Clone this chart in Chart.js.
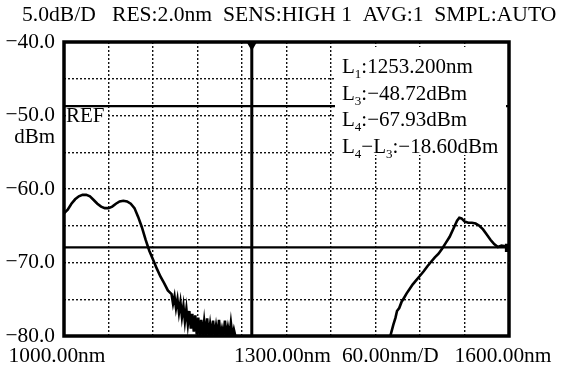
<!DOCTYPE html>
<html>
<head>
<meta charset="utf-8">
<script src="https://cdn.jsdelivr.net/npm/chart.js@4.4.1/dist/chart.umd.min.js"></script>
<style>
  html, body { margin: 0; padding: 0; background: #fff; }
  #osa-chart { display: block; }
</style>
</head>
<body>
<canvas id="osa-chart" width="567" height="368"></canvas>
<script>
'use strict';

// trace: wavelength (nm) / level (dBm)
const wlLeft = [1000, 1005, 1010, 1015, 1020, 1025, 1030, 1035, 1040, 1045, 1050, 1055, 1060, 1065,
    1070, 1075, 1080, 1085, 1090, 1095, 1100, 1105, 1110, 1115, 1120, 1125, 1130, 1135, 1140, 1145,
    1147, 1149, 1151, 1153, 1155, 1157, 1159, 1161, 1163, 1165, 1167, 1169, 1171, 1173, 1175, 1177,
    1179, 1181, 1183, 1185, 1187, 1189, 1191, 1193, 1195, 1197, 1199, 1201, 1203, 1205, 1207, 1209,
    1211, 1213, 1215, 1217, 1219, 1221, 1223, 1225, 1227, 1229, 1231];
const dbmLeft = [-63.3, -62.8, -62.0, -61.4, -61.0, -60.8, -60.8, -61.0, -61.5, -62.0, -62.4, -62.6, -62.6, -62.4,
    -62.0, -61.7, -61.6, -61.7, -62.0, -62.6, -63.8, -65.2, -66.9, -68.4, -69.6, -70.8, -71.9, -72.8, -73.8, -74.3,
    -75.6, -74.6, -76.2, -75.0, -76.8, -75.4, -77.4, -75.9, -78.0, -76.3, -78.4, -76.6, -79.0, -77.0, -79.4, -77.2,
    -79.8, -77.5, -80.0, -77.8, -80.0, -78.0, -80.0, -77.6, -80.0, -78.4, -80.0, -77.9, -80.0, -78.6, -80.0, -77.8,
    -80.0, -79.0, -80.0, -77.9, -80.0, -78.8, -80.0, -78.2, -80.0, -79.1, -80.0];

const wlRight = [1440, 1444, 1447, 1449, 1452, 1455, 1458, 1462, 1466, 1470, 1475, 1480, 1485, 1490, 1495,
    1500, 1505, 1510, 1515, 1520, 1525, 1530, 1533, 1536, 1540, 1545, 1550, 1555, 1560, 1565, 1570,
    1575, 1580, 1585, 1590, 1595, 1600];
const dbmRight = [-80.0, -78.5, -77.5, -76.6, -76.2, -75.4, -74.9, -74.2, -73.6, -73.0, -72.4, -71.8, -71.2, -70.5, -69.9,
    -69.3, -68.8, -68.1, -67.3, -66.5, -65.4, -64.3, -63.9, -64.0, -64.4, -64.6, -64.6, -64.7, -65.0, -65.5, -66.2,
    -66.9, -67.5, -67.9, -67.7, -67.8, -68.0];

const markerL1 = 1253.2;   // nm
const markerL3 = -48.72;   // dBm
const markerL4 = -67.93;   // dBm

const yLabelValues = [-40, -50, -60, -70, -80];
const xLabels = ['1000.00nm', '1300.00nm', '60.00nm/D', '1600.00nm'];
const headerText = '5.0dB/D   RES:2.0nm  SENS:HIGH 1  AVG:1  SMPL:AUTO';

// [text, subscript?]
const readouts = [
    [['L', 0], ['1', 1], [':1253.200nm', 0]],
    [['L', 0], ['3', 1], [':\u221248.72dBm', 0]],
    [['L', 0], ['4', 1], [':\u221267.93dBm', 0]],
    [['L', 0], ['4', 1], ['\u2212L', 0], ['3', 1], [':\u221218.60dBm', 0]]
];

const FONT = '"Liberation Serif", "Times New Roman", serif';


function toPoints(xs, ys) {
    return xs.map((x, i) => ({ x: x, y: ys[i] }));
}

function drawReadout(ctx, parts, x, y) {
    parts.forEach(([txt, sub]) => {
        ctx.font = sub ? `13px ${FONT}` : `21px ${FONT}`;
        ctx.fillText(txt, x, sub ? y + 5 : y);
        x += ctx.measureText(txt).width;
    });
}

const osaOverlay = {
    id: 'osaOverlay',
    afterDraw(chart) {
        const ctx = chart.ctx;
        const a = chart.chartArea;
        ctx.save();
        ctx.textBaseline = 'alphabetic';

        // readout panel + REF tag hide the grid underneath
        ctx.fillStyle = '#fff';
        ctx.fillRect(a.left + 271, a.top + 5, a.right - a.left - 274, 108);
        ctx.fillRect(a.left + 2, a.top + 66, 42, 17);

        ctx.fillStyle = '#000';
        ctx.textAlign = 'left';
        readouts.forEach((r, i) => drawReadout(ctx, r, a.left + 278, a.top + 31 + i * 26.5));

        ctx.font = `21px ${FONT}`;
        ctx.fillText('REF', a.left + 2, a.top + 80);

        // frame
        ctx.strokeStyle = '#000';
        ctx.lineWidth = 3.5;
        ctx.strokeRect(a.left, a.top, a.right - a.left, a.bottom - a.top);

        // header and axis texts
        ctx.font = `21.6px ${FONT}`;
        ctx.fillText(headerText, 22, 21);
        ctx.font = `21px ${FONT}`;
        ctx.textAlign = 'right';
        ctx.fillText('dBm', 55, 143);

        const xs = chart.scales.x;
        ctx.font = `21.4px ${FONT}`;
        ctx.textAlign = 'center';
        ctx.fillText(xLabels[0], xs.getPixelForValue(1000) - 7, 362);
        ctx.fillText(xLabels[1], xs.getPixelForValue(1300) - 4, 362);
        ctx.fillText(xLabels[2], xs.getPixelForValue(1440), 362);
        ctx.fillText(xLabels[3], xs.getPixelForValue(1600) - 6, 362);
        ctx.restore();
    }
};


function createChartSpectrum() {
    const Chart = window.Chart;
    const ctx = document.getElementById('osa-chart').getContext('2d');

    const trace = {
        borderColor: '#000',
        borderWidth: 2.6,
        tension: 0,
        fill: false,
        pointStyle: 'rect',
        pointBackgroundColor: '#000',
        pointBorderColor: '#000'
    };
    const marker = {
        borderColor: '#000',
        borderWidth: 2.2,
        fill: false,
        pointRadius: 0
    };

    const rightPts = toPoints(wlRight, dbmRight);

    new Chart(ctx, {
        type: 'line',
        data: {
            datasets: [
                Object.assign({ data: toPoints(wlLeft, dbmLeft), pointRadius: 0 }, trace),
                Object.assign({
                    data: rightPts,
                    pointRadius: rightPts.map((p, i) => i === rightPts.length - 1 ? 4 : 0)
                }, trace),
                Object.assign({}, marker, {
                    data: [{ x: markerL1, y: -40 }, { x: markerL1, y: -80 }],
                    borderWidth: 3,
                    pointRadius: [6, 0],
                    pointStyle: 'triangle',
                    rotation: 180,
                    pointBackgroundColor: '#000',
                    pointBorderColor: '#000'
                }),
                Object.assign({ data: [{ x: 1000, y: markerL3 }, { x: 1600, y: markerL3 }] }, marker),
                Object.assign({ data: [{ x: 1000, y: markerL4 }, { x: 1600, y: markerL4 }] }, marker)
            ]
        },
        options: {
            responsive: false,
            animation: false,
            layout: { padding: { top: 42, right: 58, left: 0, bottom: 0 } },
            plugins: {
                legend: { display: false },
                tooltip: { enabled: false }
            },
            scales: {
                x: {
                    type: 'linear',
                    min: 1000,
                    max: 1600,
                    afterFit: (s) => { s.height = 32; },
                    ticks: { display: false, stepSize: 60 },
                    grid: { color: '#111', lineWidth: 1.4, drawTicks: false },
                    border: { display: false, dash: [2, 2] }
                },
                y: {
                    min: -80,
                    max: -40,
                    afterFit: (s) => { s.width = 64; },
                    ticks: {
                        stepSize: 5,
                        autoSkip: false,
                        padding: 9,
                        color: '#000',
                        font: { family: FONT, size: 21.4 },
                        callback: (v) => yLabelValues.includes(v)
                            ? '\u2212' + Math.abs(v).toFixed(1) : ''
                    },
                    grid: { color: '#111', lineWidth: 1.4, drawTicks: false },
                    border: { display: false, dash: [2, 2] }
                }
            }
        },
        plugins: [osaOverlay]
    });
}

createChartSpectrum();
</script>
</body>
</html>
